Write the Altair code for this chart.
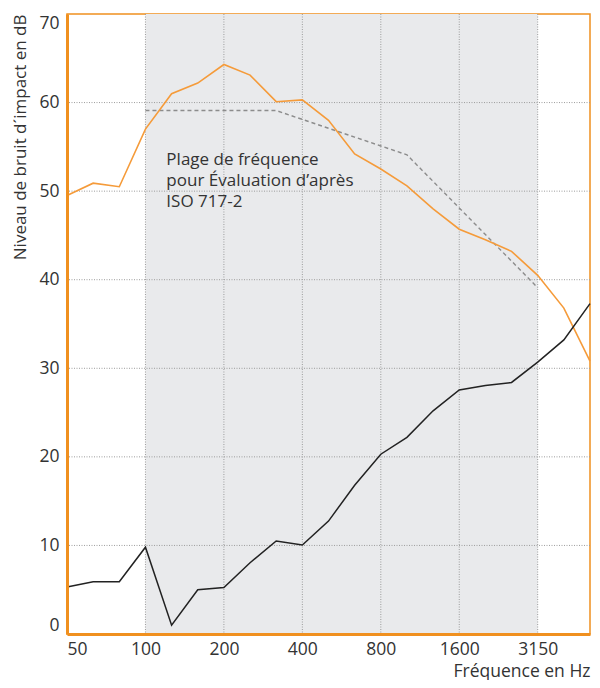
import json
import altair as alt
import pandas as pd

# Third-octave bands (Hz)
bands = ["50", "63", "80", "100", "125", "160", "200", "250", "315", "400", "500",
         "630", "800", "1000", "1250", "1600", "2000", "2500", "3150", "4000", "5000"]
# Untreated floor (orange)
orange_vals = [49.5, 50.9, 50.5, 57.0, 61.0, 62.2, 64.3, 63.1, 60.1, 60.3, 58.0,
               54.2, 52.5, 50.6, 48.0, 45.7, 44.5, 43.2, 40.5, 36.8, 30.8]
# Treated floor (black)
black_vals = [5.3, 5.9, 5.9, 9.8, 1.0, 5.0, 5.25, 8.05, 10.5, 10.05, 12.75,
              16.8, 20.3, 22.2, 25.2, 27.55, 28.05, 28.4, 30.7, 33.2, 37.3]
# Shifted ISO 717-2 reference curve, 100 .. 3150 Hz
ref_bands = ["100", "125", "160", "200", "250", "315", "400", "500", "630", "800",
             "1000", "1250", "1600", "2000", "2500", "3150"]
ref_vals = [59.1, 59.1, 59.1, 59.1, 59.1, 59.1, 58.1, 57.1, 56.1, 55.1,
            54.1, 51.1, 48.1, 45.1, 42.1, 39.1]

tick_labels = ["50", "100", "200", "400", "800", "1600", "3150"]
y_ticks = [0, 10, 20, 30, 40, 50, 60, 70]
y_grid = [10, 20, 30, 40, 50, 60]
range_start, range_end = "100", "3150"
note = "Plage de fréquence\npour Évaluation d’après\nISO 717-2"

ORANGE_LINE = "#f59b3a"
ORANGE_BORDER = "#f0901f"
TEXT = "#333333"
FONT = "Open Sans"
W, H = 523, 620

idx = {b: i for i, b in enumerate(bands)}
tick_idx = [idx[b] for b in tick_labels]

df_orange = pd.DataFrame({"i": list(range(len(bands))), "v": orange_vals})
df_black = pd.DataFrame({"i": list(range(len(bands))), "v": black_vals})
df_ref = pd.DataFrame({"i": [idx[b] for b in ref_bands], "v": ref_vals})
df_shade = pd.DataFrame({"i": [idx[range_start]], "i2": [idx[range_end]],
                         "v": [0], "v2": [70]})
df_vgrid = pd.DataFrame({"i": [t for t in tick_idx if t != 0]})
df_hgrid = pd.DataFrame({"v": y_grid})
df_note = pd.DataFrame({"i": [3.8], "v": [52.9], "t": [note]})

xscale = alt.Scale(domain=[0, len(bands) - 1], nice=False, zero=False)
yscale = alt.Scale(domain=[0, 70], nice=False)

label_expr = json.dumps(bands) + "[datum.value]"

xaxis = alt.Axis(values=tick_idx, labelExpr=label_expr, grid=False, ticks=False,
                 domain=True, domainColor=ORANGE_BORDER, domainWidth=3,
                 labelFlush=True, labelFontSize=17.5, labelColor=TEXT, labelFont=FONT,
                 labelPadding=6, zindex=1,
                 title="Fréquence en Hz", titleFont=FONT, titleFontSize=17.5,
                 titleFontWeight="normal", titleColor=TEXT,
                 titleX=W, titleY=42, titleAlign="right", titleBaseline="alphabetic")
yaxis = alt.Axis(values=y_ticks, grid=False, ticks=False, domain=True,
                 domainColor=ORANGE_BORDER, domainWidth=3, labelFlush=True,
                 labelFontSize=17.5, labelColor=TEXT, labelFont=FONT, labelPadding=8,
                 zindex=1,
                 title="Niveau de bruit d´impact en dB", titleFont=FONT, titleFontSize=17,
                 titleFontWeight="normal", titleColor=TEXT,
                 titleX=-46.5, titleY=0, titleAngle=270, titleAlign="right",
                 titleBaseline="middle")

X = alt.X("i:Q", scale=xscale, axis=xaxis)
Y = alt.Y("v:Q", scale=yscale, axis=yaxis)

shade = alt.Chart(df_shade).mark_rect(color="#e9eaec").encode(
    x=X, x2="i2:Q", y=Y, y2="v2:Q",
)
vgrid = alt.Chart(df_vgrid).mark_rule(color="#9c9c9c", strokeWidth=1, strokeDash=[1, 1.5]).encode(
    x=X
)
hgrid = alt.Chart(df_hgrid).mark_rule(color="#9c9c9c", strokeWidth=1, strokeDash=[1, 1.5]).encode(
    y=Y
)
ref_line = alt.Chart(df_ref).mark_line(color="#8c8c8c", strokeWidth=1.4, strokeDash=[4, 3]).encode(
    x=X, y=Y
)
orange_line = alt.Chart(df_orange).mark_line(color=ORANGE_LINE, strokeWidth=1.6).encode(
    x=X, y=Y
)
black_line = alt.Chart(df_black).mark_line(color="#222222", strokeWidth=1.5).encode(
    x=X, y=Y
)
note_text = alt.Chart(df_note).mark_text(
    align="left", baseline="alphabetic", lineBreak="\n", lineHeight=21,
    fontSize=17, font=FONT, color=TEXT
).encode(
    x=X, y=Y, text="t:N",
)

chart = alt.layer(shade, vgrid, hgrid, ref_line, orange_line, black_line, note_text).properties(
    width=W, height=H,
    autosize=alt.AutoSizeParams(type="none"),
    padding={"left": 59, "top": 6, "right": 2, "bottom": 46},
).configure_view(stroke=ORANGE_BORDER, strokeWidth=1.5)

chart.save("out.html", embed_options={"renderer": "svg", "actions": False})
